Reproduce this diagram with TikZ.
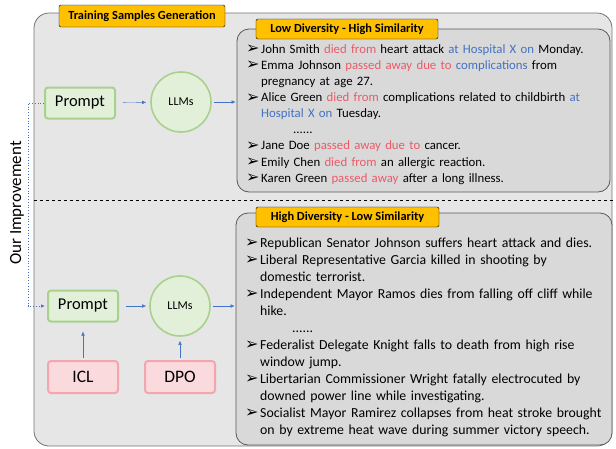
\documentclass[tikz,border=0pt]{standalone}
\usepackage{fontspec}
\setmainfont{Carlito}
\newfontfamily\symfont{DejaVu Sans}
\usetikzlibrary{arrows.meta}

\definecolor{panelgray}{HTML}{E7E6E6}
\definecolor{panelline}{HTML}{767171}
\definecolor{listgray}{HTML}{D9D9D9}
\definecolor{listline}{HTML}{595959}
\definecolor{taborange}{HTML}{FFC000}
\definecolor{promptfill}{HTML}{E2F0D9}
\definecolor{promptline}{HTML}{A9D18E}
\definecolor{methfill}{HTML}{FADADD}
\definecolor{methline}{HTML}{F4A6AE}
\definecolor{flowblue}{HTML}{4472C4}
\definecolor{phrasered}{HTML}{EC5A68}

\newcommand{\bul}{\makebox[15pt][l]{\raisebox{-0.5pt}[0pt][0pt]{\symfont\fontsize{16}{12}\selectfont ➢}}}
\newcommand{\itm}{\par\noindent\hangindent=15pt\hangafter=1\bul}
\newcommand{\rd}[1]{\textcolor{phrasered}{#1}}
\newcommand{\bl}[1]{\textcolor{flowblue}{#1}}

\tikzset{
  tabbox/.style={draw, fill=taborange, rounded corners=2pt, font=\bfseries\fontsize{12.4}{14}\selectfont, inner sep=0pt},
  listbox/.style={draw=listline, fill=listgray, thick, rounded corners=12pt},
  prompt/.style={draw=promptline, fill=promptfill, line width=2pt, rounded corners=3pt, minimum width=70pt, minimum height=31pt, font=\fontsize{16.5}{19}\selectfont},
  llm/.style={circle, draw=promptline, fill=promptfill, line width=1.6pt, minimum size=60pt, font=\fontsize{12}{14}\selectfont},
  method/.style={draw=methline, fill=methfill, line width=2pt, rounded corners=3pt, minimum width=70pt, minimum height=32pt, font=\fontsize{17.5}{20}\selectfont},
  flow/.style={flowblue, -{Latex[length=4pt,width=3.5pt]}},
  sampletext/.style={anchor=north west, inner sep=0pt, text width=380pt}
}

\begin{document}
\begin{tikzpicture}[x=1pt,y=-1pt]
\useasboundingbox (0,0) rectangle (616,448);
\draw[draw=panelline, fill=panelgray, thick, rounded corners=15pt] (34,13) rectangle (612,446);
\draw[dashed, thick] (34,200) -- (616,200);
\node[tabbox, minimum width=166pt, minimum height=22pt] (gen) at (142,16) {Training Samples Generation};
\node[rotate=90, font=\fontsize{17}{20}\selectfont] (impr) at (17,203) {Our Improvement};

% upper branch
\node[prompt] (ptop) at (80,103) {Prompt};
\node[llm] (ltop) at (181,102) {LLMs};
\node[listbox, minimum width=373pt, minimum height=163pt] (low) at (423.5,110.5) {};
\node[tabbox, minimum width=182pt, minimum height=20pt] (lowtab) at (347,29) {Low Diversity - High Similarity};
\node[sampletext, font=\fontsize{12.8}{16.1}\selectfont] (lowtxt) at (246,37) {\raggedright
\itm John Smith \rd{died from} heart attack \bl{at Hospital X on} Monday.
\itm Emma Johnson \rd{passed away due to} \bl{complications} from\newline pregnancy at age 27.
\itm Alice Green \rd{died from} complications related to childbirth \bl{at}\newline \bl{Hospital X on} Tuesday.
\par\noindent\hspace*{47pt}......
\itm Jane Doe \rd{passed away due to} cancer.
\itm Emily Chen \rd{died from} an allergic reaction.
\itm Karen Green \rd{passed away} after a long illness.\par};
\draw[flow, shorten <=7pt, shorten >=4pt] (ptop) -- (ltop);
\draw[flow, shorten <=2pt, shorten >=1pt] (ltop) -- (low.west |- ltop);

% lower branch
\node[prompt] (pbot) at (83,306) {Prompt};
\node[llm] (lbot) at (180,306) {LLMs};
\node[method] (icl) at (83,377) {ICL};
\node[method] (dpo) at (180,377) {DPO};
\node[listbox, minimum width=376pt, minimum height=232pt] (high) at (424,329) {};
\node[tabbox, minimum width=183pt, minimum height=20pt] (hightab) at (347.5,217) {High Diversity - Low Similarity};
\node[sampletext, font=\fontsize{13.8}{17}\selectfont] (hightxt) at (245,230) {\raggedright
\itm Republican Senator Johnson suffers heart attack and dies.
\itm Liberal Representative Garcia killed in shooting by\newline domestic terrorist.
\itm Independent Mayor Ramos dies from falling off cliff while\newline hike.
\par\noindent\hspace*{47pt}......
\itm Federalist Delegate Knight falls to death from high rise\newline window jump.
\itm Libertarian Commissioner Wright fatally electrocuted by\newline downed power line while investigating.
\itm Socialist Mayor Ramirez collapses from heat stroke brought\newline on by extreme heat wave during summer victory speech.\par};
\draw[flow, shorten <=7pt, shorten >=3pt] (pbot) -- (lbot);
\draw[flow, shorten <=2pt, shorten >=1pt] (lbot) -- (high.west |- lbot);
\draw[flow, shorten <=2pt, shorten >=9pt] (icl) -- (pbot);
\draw[flow, shorten <=2pt, shorten >=4pt] (dpo) -- (lbot);

% improvement link
\coordinate (turn) at (28,103);
\draw[flowblue, dotted, thick, -{Latex[length=4pt,width=3.5pt]}, shorten >=2pt] (ptop.west) -- (turn) |- (pbot.west);
\end{tikzpicture}
\end{document}
